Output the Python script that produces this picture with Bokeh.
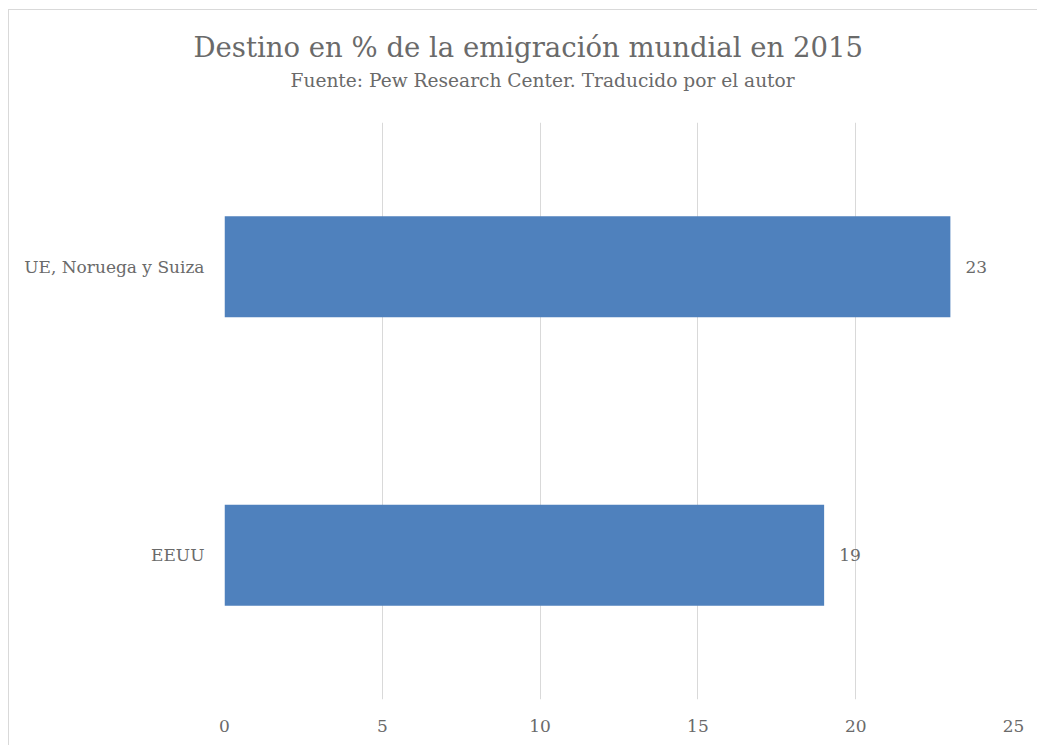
from bokeh.plotting import figure
from bokeh.models import ColumnDataSource, FactorRange, Title, FixedTicker
from bokeh.embed import file_html
from bokeh.resources import INLINE

categories = ["EEUU", "UE, Noruega y Suiza"]
values = [19, 23]
x_ticks = [0, 5, 10, 15, 20, 25]
title_text = "Destino en % de la emigración mundial en 2015"
subtitle_text = "Fuente: Pew Research Center. Traducido por el autor"

FONT = "DejaVu Serif"
TXT = "#6a6a6a"
GRID = "#d9d9d9"
BAR = "#4f81bd"

src = ColumnDataSource(dict(cat=categories, val=values, lab=[str(v) for v in values]))

p = figure(width=1029, height=736, y_range=FactorRange(*categories), x_range=(0, 25),
           output_backend="svg", toolbar_location=None, title=None,
           min_border_left=215, min_border_right=25, min_border_top=112, min_border_bottom=47,
           styles={"border-left": "1px solid #d9d9d9", "border-top": "1px solid #d9d9d9",
                   "margin-left": "8px", "margin-top": "9px"})
p.outline_line_color = None
p.background_fill_color = "white"
p.border_fill_color = "white"

p.hbar(y="cat", right="val", left=0, height=0.35, source=src, fill_color=BAR, line_color=None)
p.text(x="val", y="cat", text="lab", source=src, x_offset=15, text_align="left",
       text_baseline="middle", text_font_size="17px", text_color=TXT,
       text_font={"value": FONT})

p.xaxis.ticker = FixedTicker(ticks=x_ticks)
for ax in (p.xaxis[0], p.yaxis[0]):
    ax.axis_line_color = None
    ax.major_tick_line_color = None
    ax.minor_tick_line_color = None
    ax.major_tick_out = 0
    ax.major_tick_in = 0
    ax.major_label_text_font = FONT
    ax.major_label_text_font_size = "17px"
    ax.major_label_text_color = TXT
p.xaxis.major_label_standoff = 20
p.yaxis.major_label_standoff = 20

p.xgrid.grid_line_color = GRID
p.xgrid.grid_line_width = 1
p.ygrid.grid_line_color = None

p.add_layout(Title(text=subtitle_text, align="left", offset=66, standoff=63,
                   text_font=FONT, text_font_size="18.6px", text_color=TXT,
                   text_font_style="normal"), "above")
p.add_layout(Title(text=title_text, align="left", offset=-31, standoff=-52,
                   text_font=FONT, text_font_size="27.5px", text_color=TXT,
                   text_font_style="normal"), "above")

open("out.html", "w").write(file_html(p, INLINE))
